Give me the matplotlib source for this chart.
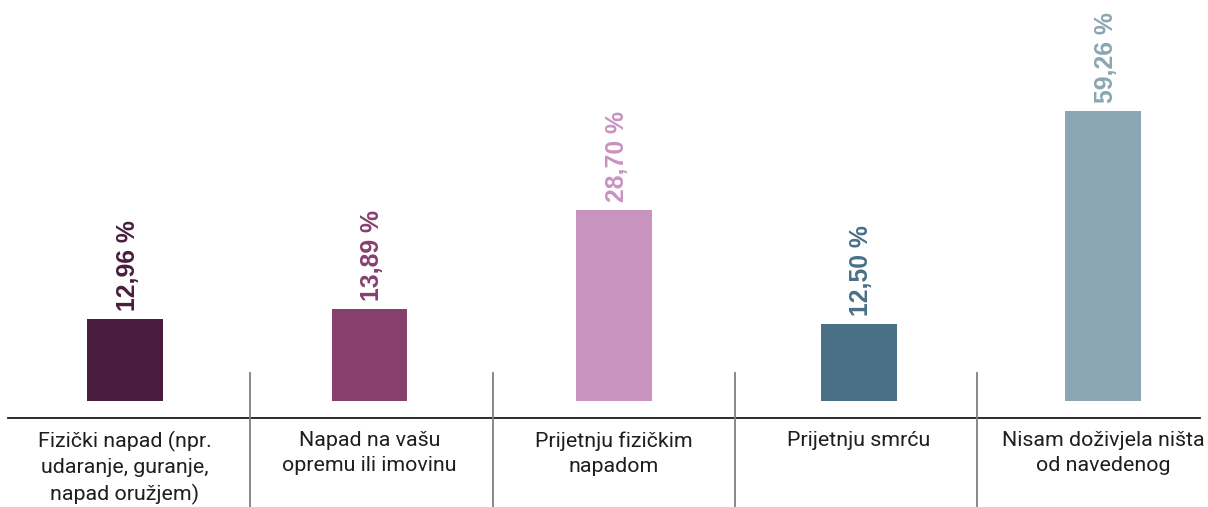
import matplotlib
matplotlib.use("Agg")
import matplotlib.pyplot as plt
from matplotlib.lines import Line2D
import matplotlib.transforms as mtransforms

categories = [
    "Fizički napad (npr.\nudaranje, guranje,\nnapad oružjem)",
    "Napad na vašu\nopremu ili imovinu",
    "Prijetnju fizičkim\nnapadom",
    "Prijetnju smrću",
    "Nisam doživjela ništa\nod navedenog",
]
values = [12.96, 13.89, 28.70, 12.50, 59.26]
value_labels = ["12,96 %", "13,89 %", "28,70 %", "12,50 %", "59,26 %"]
colors = ["#4a1d3e", "#873f6e", "#c993c0", "#497087", "#8aa6b2"]

W, H = 1208, 507
fig = plt.figure(figsize=(W / 100, H / 100), dpi=100)
fig.patch.set_facecolor("white")

# axes: bottom at pixel row 400.5 from top, top at 0
bottom_frac = (H - 400.5) / H
ax = fig.add_axes([0, bottom_frac, 1, 1 - bottom_frac])
ax.set_yscale("log")
ax.set_ylim(7.14, 133.5)
spacing = 244.5
ax.set_xlim(-125 / spacing, (W - 125) / spacing)
ax.axis("off")

x = list(range(len(values)))
ax.bar(x, values, width=76 / spacing, color=colors, bottom=0.001)

for xi, v, lab, c in zip(x, values, value_labels, colors):
    ax.annotate(lab, (xi, v), xytext=(2, 6), textcoords="offset points",
                rotation=90, ha="center", va="bottom", color=c,
                fontsize=17.8, fontweight="bold", family="Liberation Sans")

# baseline and separators (figure pixel positions)
fig.add_artist(Line2D([8 / W, 1200 / W], [(H - 418) / H] * 2,
                      color="#1a1a1a", lw=1.3, transform=fig.transFigure))
for px in [250, 492.5, 735, 977]:
    fig.add_artist(Line2D([px / W, px / W], [(H - 373) / H, 0],
                          color="#808080", lw=1.3, transform=fig.transFigure))

trans = mtransforms.blended_transform_factory(ax.transData, fig.transFigure)
for xi, cat in zip(x, categories):
    ax.text(xi, (H - 431) / H, cat, transform=trans, ha="center", va="top",
            fontsize=15.4, color="#1e1e1e", family="Roboto", linespacing=1.42)

fig.savefig("out.png", dpi=100, facecolor="white")
